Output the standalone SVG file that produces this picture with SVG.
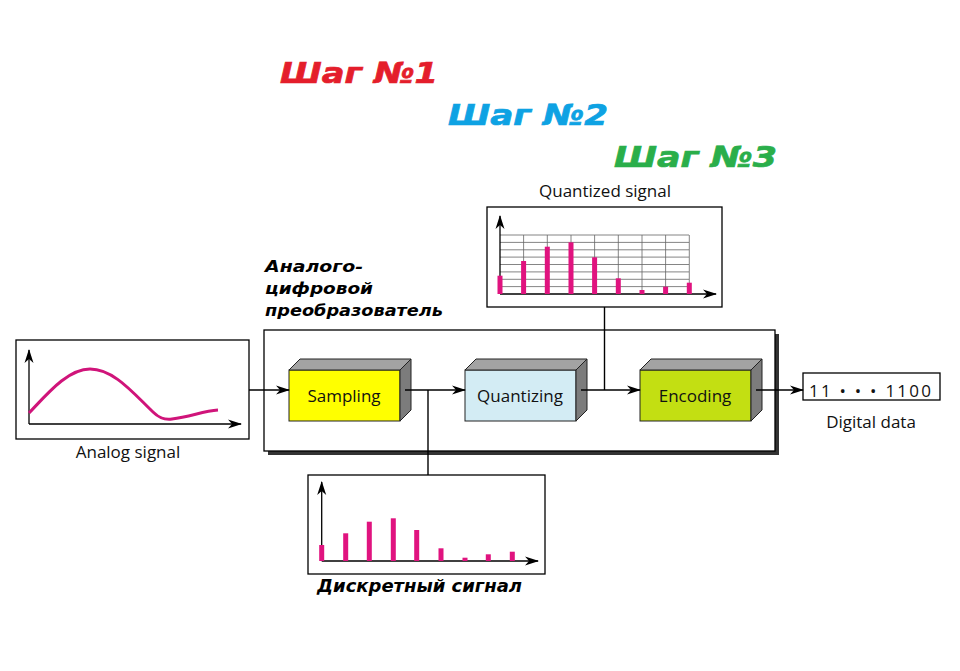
<svg xmlns="http://www.w3.org/2000/svg" width="960" height="671" viewBox="0 0 960 671">
<defs>
<marker id="arr" markerUnits="userSpaceOnUse" markerWidth="14" markerHeight="10" refX="13" refY="5" orient="auto">
<path d="M0,0.5 L14,5 L0,9.5 L4,5 z" fill="#000"/>
</marker>
<style>
.t{font-family:"Open Sans","Noto Sans","DejaVu Sans",sans-serif;font-size:17px;fill:#111}
.bi{font-family:"DejaVu Sans","Verdana",sans-serif;font-weight:bold;font-style:italic;fill:#000}
.step{font-family:"DejaVu Sans","Verdana",sans-serif;font-weight:bold;font-style:italic;font-size:29px;stroke-width:0.7}
.box{fill:#fff;stroke:#000;stroke-width:1.3}
.ln{stroke:#000;stroke-width:1.4;fill:none}
.ax{stroke:#000;stroke-width:1.3;fill:none;marker-end:url(#arr)}
.bar{fill:#e0137f}
.top{fill:#a3a3a3;stroke:#222;stroke-width:1}
.side{fill:#7c7c7c;stroke:#222;stroke-width:1}
.grid{stroke:#666;stroke-width:0.8}
</style>
</defs>
<rect width="960" height="671" fill="#fff"/>

<g id="steps">
<text class="step" x="280" y="83" fill="#e41e2b" stroke="#e41e2b" textLength="158" lengthAdjust="spacingAndGlyphs">Шаг №1</text>
<text class="step" x="448" y="125" fill="#0ea2e3" stroke="#0ea2e3" textLength="160" lengthAdjust="spacingAndGlyphs">Шаг №2</text>
<text class="step" x="614" y="167" fill="#2aae4a" stroke="#2aae4a" textLength="163" lengthAdjust="spacingAndGlyphs">Шаг №3</text>
</g>

<g id="adc">
<rect x="268" y="334" width="511" height="121" fill="#333"/>
<rect x="264" y="330" width="511" height="121" class="box"/>
<text class="bi" font-size="16"><tspan x="265" y="272" textLength="98" lengthAdjust="spacingAndGlyphs">Аналого-</tspan><tspan x="265" y="294" textLength="108" lengthAdjust="spacingAndGlyphs">цифровой</tspan><tspan x="265" y="316" textLength="178" lengthAdjust="spacingAndGlyphs">преобразователь</tspan></text>
</g>

<g id="analog">
<rect x="16" y="340" width="233" height="99" class="box"/>
<line x1="29" y1="424" x2="29" y2="350" class="ax"/>
<line x1="29" y1="424" x2="241" y2="424" class="ax"/>
<path d="M29,413 C48,393 68,369 90,369 C114,369 134,394 153,412 C159,418 164,420 172,419 C190,417 203,411 218,410" fill="none" stroke="#d0147a" stroke-width="3"/>
<text class="t" x="128" y="458" text-anchor="middle">Analog signal</text>
</g>

<g id="sampling">
<rect x="289" y="370" width="111" height="51" fill="#ffff00" stroke="#222" stroke-width="1"/>
<polygon points="289,370 300,359 411,359 400,370" class="top"/>
<polygon points="400,370 411,359 411,410 400,421" class="side"/>
<text class="t" x="344" y="402" text-anchor="middle">Sampling</text>
</g>

<g id="quantizing">
<rect x="465" y="370" width="111" height="51" fill="#d3ecf4" stroke="#222" stroke-width="1"/>
<polygon points="465,370 476,359 587,359 576,370" class="top"/>
<polygon points="576,370 587,359 587,410 576,421" class="side"/>
<text class="t" x="520" y="402" text-anchor="middle">Quantizing</text>
</g>

<g id="encoding">
<rect x="640" y="370" width="111" height="51" fill="#c3df12" stroke="#222" stroke-width="1"/>
<polygon points="640,370 651,359 762,359 751,370" class="top"/>
<polygon points="751,370 762,359 762,410 751,421" class="side"/>
<text class="t" x="695" y="402" text-anchor="middle">Encoding</text>
</g>

<g id="digital">
<rect x="803" y="373" width="137" height="27" class="box"/>
<text class="t" x="809" y="397" textLength="122" lengthAdjust="spacing">11 • • • 1100</text>
<text class="t" x="871" y="428" text-anchor="middle">Digital data</text>
</g>

<g id="quantized">
<text class="t" x="605" y="197" text-anchor="middle">Quantized signal</text>
<rect x="487" y="207" width="235" height="100" class="box"/>
<g class="grid">
<line x1="500" y1="235" x2="689" y2="235"/>
<line x1="500" y1="242.4" x2="689" y2="242.4"/>
<line x1="500" y1="249.8" x2="689" y2="249.8"/>
<line x1="500" y1="257.1" x2="689" y2="257.1"/>
<line x1="500" y1="264.5" x2="689" y2="264.5"/>
<line x1="500" y1="271.9" x2="689" y2="271.9"/>
<line x1="500" y1="279.3" x2="689" y2="279.3"/>
<line x1="500" y1="286.6" x2="689" y2="286.6"/>
<line x1="523.6" y1="235" x2="523.6" y2="294"/>
<line x1="547.3" y1="235" x2="547.3" y2="294"/>
<line x1="571" y1="235" x2="571" y2="294"/>
<line x1="594.6" y1="235" x2="594.6" y2="294"/>
<line x1="618.3" y1="235" x2="618.3" y2="294"/>
<line x1="642" y1="235" x2="642" y2="294"/>
<line x1="665.6" y1="235" x2="665.6" y2="294"/>
<line x1="689.3" y1="235" x2="689.3" y2="294"/>
</g>
<line x1="500" y1="294" x2="500" y2="216" class="ax"/>
<line x1="500" y1="294" x2="716" y2="294" class="ax"/>
<rect class="bar" x="497.5" y="275.7" width="5" height="18.3"/>
<rect class="bar" x="521.1" y="261" width="5" height="33"/>
<rect class="bar" x="544.8" y="246.7" width="5" height="47.3"/>
<rect class="bar" x="568.5" y="242.3" width="5" height="51.7"/>
<rect class="bar" x="592.1" y="257.3" width="5" height="36.7"/>
<rect class="bar" x="615.8" y="278.3" width="5" height="15.7"/>
<rect class="bar" x="639.5" y="290" width="5" height="4"/>
<rect class="bar" x="663.1" y="286.7" width="5" height="7.3"/>
<rect class="bar" x="686.8" y="282.7" width="5" height="11.3"/>
</g>

<g id="discrete">
<rect x="308" y="475" width="237" height="99" class="box"/>
<line x1="321.7" y1="561" x2="321.7" y2="482" class="ax"/>
<line x1="321.7" y1="561" x2="538" y2="561" class="ax"/>
<rect class="bar" x="319.2" y="545" width="5" height="16"/>
<rect class="bar" x="343.2" y="533.3" width="5" height="27.7"/>
<rect class="bar" x="366.8" y="521.7" width="5" height="39.3"/>
<rect class="bar" x="390.8" y="518.3" width="5" height="42.7"/>
<rect class="bar" x="414.2" y="530" width="5" height="31"/>
<rect class="bar" x="438.5" y="548.3" width="5" height="12.7"/>
<rect class="bar" x="462.5" y="557.7" width="5" height="3.3"/>
<rect class="bar" x="485.8" y="554.3" width="5" height="6.7"/>
<rect class="bar" x="509.8" y="551.7" width="5" height="9.3"/>
<text class="bi" font-size="17" x="317" y="592" textLength="205" lengthAdjust="spacingAndGlyphs">Дискретный сигнал</text>
</g>

<g id="connectors">
<line x1="249" y1="390" x2="289" y2="390" class="ax"/>
<line x1="405" y1="390" x2="465" y2="390" class="ax"/>
<line x1="581" y1="390" x2="640" y2="390" class="ax"/>
<line x1="756" y1="390" x2="803" y2="390" class="ax"/>
<line x1="604.5" y1="307" x2="604.5" y2="390" class="ln"/>
<line x1="428" y1="390" x2="428" y2="475" class="ln"/>
</g>
</svg>
